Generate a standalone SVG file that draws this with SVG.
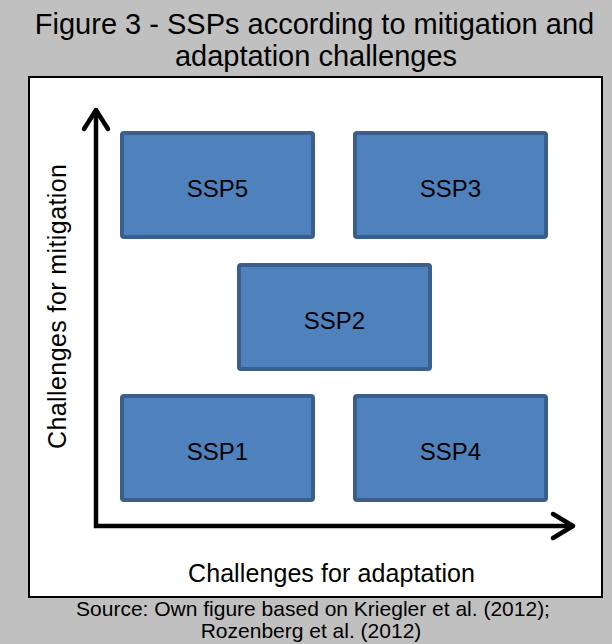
<svg xmlns="http://www.w3.org/2000/svg" width="612" height="644" viewBox="0 0 612 644">
  <defs>
    <style>
      .t { font-family: "Liberation Sans", Arial, sans-serif; fill: #000; text-anchor: middle; }
      .ssp rect { fill: #4f81bd; stroke: #3a5f8d; stroke-width: 4; }
      .ssp text { font-family: "Liberation Sans", Arial, sans-serif; font-size: 24px; fill: #000; text-anchor: middle; }
      .axis { fill: none; stroke: #000; stroke-width: 4.5; stroke-linecap: butt; stroke-linejoin: miter; }
      .head { fill: none; stroke: #000; stroke-width: 4.5; stroke-linecap: round; stroke-linejoin: round; }
    </style>
  </defs>

  <!-- page background -->
  <rect x="0" y="0" width="612" height="644" fill="#c0c0c0"/>

  <!-- title -->
  <text class="t" x="314.5" y="33.5" font-size="29">Figure 3 - SSPs according to mitigation and</text>
  <text class="t" x="316" y="65.5" font-size="29">adaptation challenges</text>

  <!-- chart frame -->
  <rect x="29" y="77" width="573" height="520" fill="#fff" stroke="#000" stroke-width="2"/>

  <!-- axes -->
  <g id="connectors">
    <path class="axis" d="M96 110 L96 526 L572 526"/>
    <path class="head" d="M84 129 L96 110 L108 129"/>
    <path class="head" d="M553 514 L573 526 L553 538"/>
  </g>

  <!-- axis labels -->
  <text class="t" font-size="25" textLength="285" lengthAdjust="spacing" transform="translate(66 306.5) rotate(-90)">Challenges for mitigation</text>
  <text class="t" x="331.5" y="582" font-size="25" textLength="287" lengthAdjust="spacing">Challenges for adaptation</text>

  <!-- scenario boxes -->
  <g id="ssp5" class="ssp">
    <rect x="122" y="133" width="191" height="104" rx="2"/>
    <text x="217.5" y="197">SSP5</text>
  </g>
  <g id="ssp3" class="ssp">
    <rect x="355" y="133" width="191" height="104" rx="2"/>
    <text x="450.5" y="197">SSP3</text>
  </g>
  <g id="ssp2" class="ssp">
    <rect x="239" y="265" width="191" height="104" rx="2"/>
    <text x="334.5" y="329">SSP2</text>
  </g>
  <g id="ssp1" class="ssp">
    <rect x="122" y="396" width="191" height="104" rx="2"/>
    <text x="217.5" y="460">SSP1</text>
  </g>
  <g id="ssp4" class="ssp">
    <rect x="355" y="396" width="191" height="104" rx="2"/>
    <text x="450.5" y="460">SSP4</text>
  </g>

  <!-- source note -->
  <text class="t" x="313" y="616" font-size="21">Source: Own figure based on Kriegler et al. (2012);</text>
  <text class="t" x="311" y="638" font-size="21">Rozenberg et al. (2012)</text>
</svg>
